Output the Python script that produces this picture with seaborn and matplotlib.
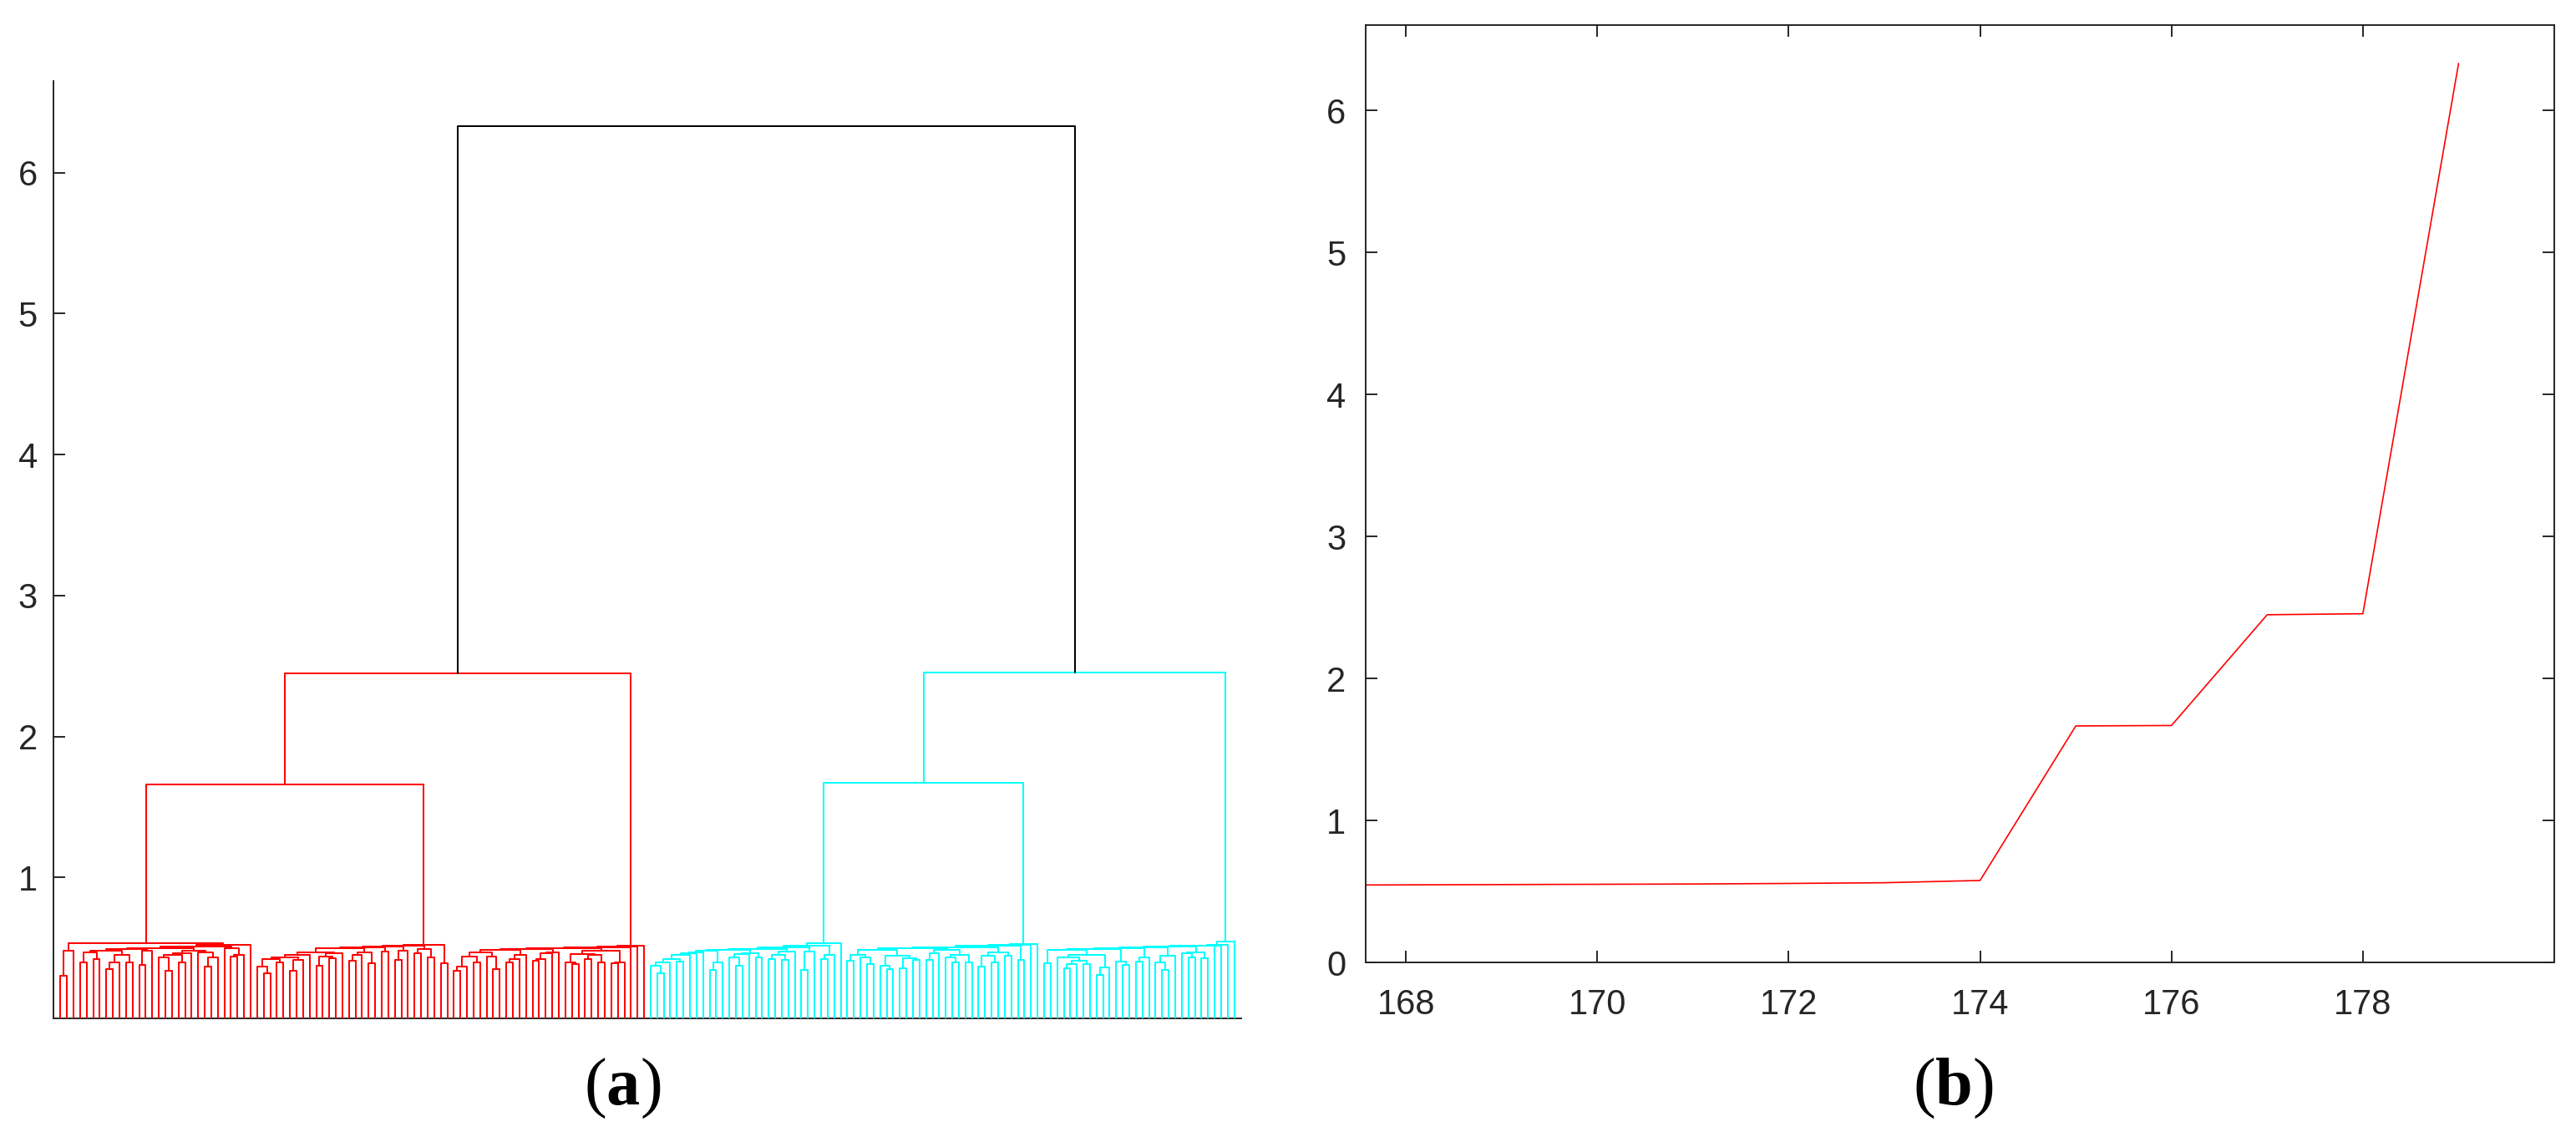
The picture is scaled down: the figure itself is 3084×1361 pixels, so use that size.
import matplotlib
matplotlib.use('Agg')
import matplotlib.pyplot as plt
import numpy as np
import pandas as pd
import seaborn as sns

# dendrogram, newick style: x = one leaf, number after ")" = height of that link
tree_top = "(((A,B)1.66,C)2.45,((D,E)1.67,F)2.455)6.33"

cluster_a = "(A1,(((((A2,A3)0.48,A4)0.49,(A5,A6)0.48)0.50,A7)0.51,x)0.522)0.534"
cluster_b = "((((((((B1,B2)0.43,x)0.45,B3)0.47,B4)0.498,B5)0.504,B6)0.508,B7)0.514,B8)0.524"
cluster_c = "(((((((C1,C2)0.47,C3)0.485,C4)0.49,(C5,C6)0.48)0.50,x)0.505,x)0.51,x)0.514"
cluster_d = "((((((D1,D2)0.48,D3)0.488,D4)0.494,D5)0.506,D6)0.518,x)0.534"
cluster_e = "((((((E1,E2)0.484,(E3,E4)0.488)0.50,(E5,E6)0.47)0.506,E7)0.514,x)0.52,x)0.528"
cluster_f = "((((((((F1,F2)0.49,F3)0.498,F4)0.506,F5)0.512,x)0.515,x)0.518,x)0.522,x)0.547"

blocks_a = {'A1': "((x,x)0.30,x)0.48",
            'A2': "((x,x)0.40,(x,x)0.42)0.47",
            'A3': "(((x,x)0.35,x)0.40,(x,x)0.40)0.45",
            'A4': "((x,x)0.38,x)0.48",
            'A5': "(((x,(x,x)0.34)0.43,(x,x)0.40)0.45,x)0.46",
            'A6': "(x,((x,x)0.37,x)0.43)0.47",
            'A7': "(x,((x,x)0.44,x)0.45)0.50"}
blocks_b = {'B1': "((x,(x,x)0.32)0.37,(x,x)0.40)0.42",
            'B2': "((x,x)0.34,x)0.415",
            'B3': "(((x,x)0.375,(x,x)0.425)0.44,x)0.46",
            'B4': "(((x,x)0.41,x)0.45,(x,x)0.39)0.47",
            'B5': "(x,x)0.475",
            'B6': "((x,x)0.415,x)0.48",
            'B7': "((x,x)0.46,(x,x)0.43)0.49",
            'B8': "(x,x)0.39"}
blocks_c = {'C1': "(((x,x)0.34,x)0.37,(x,x)0.40)0.44",
            'C2': "(x,(x,x)0.35)0.44",
            'C3': "(((x,x)0.40,x)0.42,x)0.45",
            'C4': "((((x,x)0.41,x)0.42,x)0.46,x)0.47",
            'C5': "((x,(x,x)0.385)0.40,((x,x)0.42,(x,x)0.40)0.45)0.455",
            'C6': "((x,x)0.39,x)0.40"}
blocks_d = {'D1': "((((((x,(x,x)0.32)0.375,x)0.395,(x,x)0.405)0.42,x)0.45,x)0.46,x)0.47",
            'D2': "((x,x)0.345,x)0.40",
            'D3': "(((x,(x,x)0.375)0.435,x)0.455,(x,x)0.435)0.46",
            'D4': "(((x,x)0.42,(x,x)0.415)0.453,x)0.474",
            'D5': "((x,x)0.345,x)0.474",
            'D6': "((x,x)0.423,x)0.45"}
blocks_e = {'E1': "((x,x)0.41,(x,(x,x)0.385)0.43)0.453",
            'E2': "((x,(x,x)0.35)0.375,((x,x)0.356,(x,x)0.415)0.425)0.447",
            'E3': "((x,x)0.415,x)0.465",
            'E4': "((x,(x,x)0.40)0.433,(x,x)0.395)0.453",
            'E5': "((x,x)0.37,(x,x)0.395)0.443",
            'E6': "(x,x)0.443",
            'E7': "(x,x)0.415"}
blocks_f = {'F1': "((x,x)0.39,((x,(((x,x)0.355,x)0.385,(x,x)0.385)0.41)0.435,((x,x)0.31,x)0.36)0.45)0.484",
            'F2': "(x,(x,x)0.38)0.405",
            'F3': "((x,x)0.405,x)0.43",
            'F4': "((x,(x,x)0.344)0.40,x)0.447",
            'F5': "((x,(x,x)0.433)0.464,(x,x)0.425)0.47"}

# last merges (panel b)
merge_step = [167, 168, 169, 170, 171, 172, 173, 174, 175, 176, 177, 178, 179]
merge_height = [0.544, 0.546, 0.548, 0.550, 0.552, 0.556, 0.561, 0.577,
                1.665, 1.668, 2.448, 2.455, 6.33]

blocks = {'A': cluster_a, 'B': cluster_b, 'C': cluster_c,
          'D': cluster_d, 'E': cluster_e, 'F': cluster_f}
for b in (blocks_a, blocks_b, blocks_c, blocks_d, blocks_e, blocks_f):
    blocks.update(b)


def parse(s):
    pos = 0

    def node():
        nonlocal pos
        if s[pos] == '(':
            pos += 1
            left = node()
            pos += 1
            right = node()
            pos += 1
            start = pos
            while pos < len(s) and (s[pos].isdigit() or s[pos] == '.'):
                pos += 1
            return (left, right, float(s[start:pos]))
        start = pos
        while pos < len(s) and s[pos].isalnum():
            pos += 1
        name = s[start:pos]
        return None if name == 'x' else parse(blocks[name])

    return node()


points = []
leaf_no = [0]


def add_link(xl, hl, xr, hr, h, color):
    # one link = 4 points: up the left child, across, down the right child
    for px, py in [(xl, hl), (xl, h), (xr, h), (xr, hr)]:
        points.append((px, py, color))


def place(t, color):
    # returns x position and height of the node, leaves numbered left to right
    if t is None:
        leaf_no[0] += 1
        return leaf_no[0], 0.0
    left, right, h = t
    xl, hl = place(left, color)
    xr, hr = place(right, color)
    add_link(xl, hl, xr, hr, h, color)
    return (xl + xr) / 2, h


root = parse(tree_top)
xl, hl = place(root[0], 'red')
xr, hr = place(root[1], 'cyan')
add_link(xl, hl, xr, hr, root[2], 'black')
n_leaves = leaf_no[0]
print('leaves:', n_leaves)

df = pd.DataFrame(points, columns=['x', 'h', 'color'])
df['link'] = np.arange(len(df)) // 4

sns.set_theme(style='ticks')
plt.rcParams['font.family'] = ['Liberation Sans Narrow', 'Liberation Sans', 'DejaVu Sans']
plt.rcParams['mathtext.fontset'] = 'custom'
plt.rcParams['mathtext.bf'] = 'Liberation Serif:bold'
plt.rcParams['mathtext.rm'] = 'Liberation Serif'

dark = '#262626'
fig = plt.figure(figsize=(30.84, 13.61), dpi=100)
ax1 = fig.add_axes([0.02091, 0.10434, 0.46077, 0.82439])
ax2 = fig.add_axes([0.53016, 0.15356, 0.46141, 0.82439])

# (a) dendrogram
sns.lineplot(data=df, x='x', y='h', units='link', estimator=None, sort=False,
             hue='color', palette={'red': '#ff0000', 'cyan': '#00ffff', 'black': '#000000'},
             legend=False, lw=1.45, ax=ax1)
for ln in ax1.lines:
    ln.set_zorder(3)
ax1.set_xlim(0, n_leaves + 1)
ax1.set_ylim(0, 6.65)
ax1.set_xticks([])
ax1.set_yticks([1, 2, 3, 4, 5, 6])
ax1.set(xlabel='', ylabel='')
ax1.spines['top'].set_visible(False)
ax1.spines['right'].set_visible(False)
for sp in ['left', 'bottom']:
    ax1.spines[sp].set_color(dark)
    ax1.spines[sp].set_linewidth(1.4)
ax1.tick_params(axis='y', direction='in', length=10, width=1.4, color=dark,
                labelsize=30, labelcolor=dark, pad=14)

# (b) merge heights
sns.lineplot(x=merge_step, y=merge_height, color='#ff0000', lw=1.2, ax=ax2)
ax2.set_xlim(167.58, 180)
ax2.set_ylim(0, 6.6)
ax2.set_xticks([168, 170, 172, 174, 176, 178])
ax2.set_yticks([0, 1, 2, 3, 4, 5, 6])
for sp in ax2.spines.values():
    sp.set_visible(True)
    sp.set_color(dark)
    sp.set_linewidth(1.4)
ax2.tick_params(direction='in', length=10, width=1.4, color=dark, top=True, right=True,
                labelsize=30, labelcolor=dark)
ax2.tick_params(axis='x', pad=22)
ax2.tick_params(axis='y', pad=17)

fig.text(0.2415, 0.0287, r'($\mathbf{a}$)', family='Liberation Serif', fontsize=58,
         ha='center', va='baseline', color='black')
fig.text(0.7581, 0.0287, r'($\mathbf{b}$)', family='Liberation Serif', fontsize=58,
         ha='center', va='baseline', color='black')

fig.savefig('out.png', dpi=100)
